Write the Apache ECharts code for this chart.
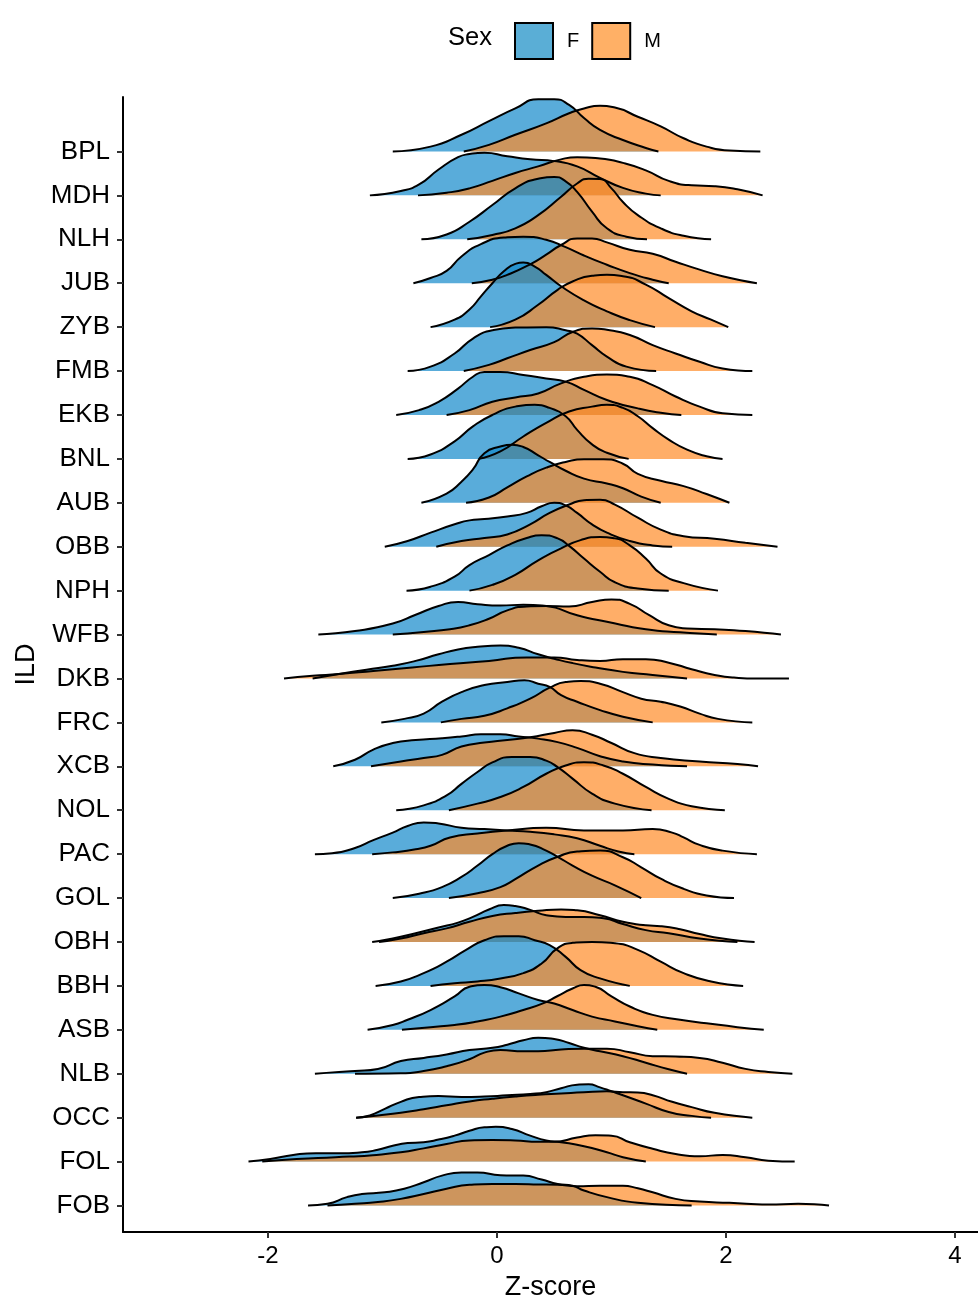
<!DOCTYPE html>
<html><head><meta charset="utf-8">
<script src="https://cdn.jsdelivr.net/npm/echarts@6/dist/echarts.min.js"></script>
<style>html,body{margin:0;padding:0;background:#fff}#c{width:978px;height:1306px}</style>
</head><body><div id="c"></div>
<script>
// Categories, top to bottom
const categories = ['BPL','MDH','NLH','JUB','ZYB','FMB','EKB','BNL','AUB','OBB','NPH','WFB','DKB','FRC','XCB','NOL','PAC','GOL','OBH','BBH','ASB','NLB','OCC','FOL','FOB'];
const xTicks = [-2, 0, 2, 4];
const sexes = ['F', 'M'];

// Scaled density curves: [Z-score, height in row units]
const F_BPL = [[-0.91,0],[-0.58,0.11],[-0.31,0.38],[-0.07,0.69],[0.16,0.98],[0.36,1.19],[0.5,1.19],[0.63,1.06],[0.76,0.76],[0.9,0.49],[1.1,0.26],[1.3,0.08],[1.41,0]];
const M_BPL = [[-0.29,0],[-0.07,0.15],[0.16,0.38],[0.43,0.64],[0.63,0.87],[0.76,0.98],[0.9,1.04],[1.03,1.0],[1.23,0.79],[1.43,0.57],[1.63,0.3],[1.83,0.11],[2.03,0.02],[2.3,0]];
const F_MDH = [[-1.11,0],[-0.84,0.1],[-0.68,0.25],[-0.51,0.59],[-0.34,0.87],[-0.24,0.94],[-0.11,0.97],[0.09,0.89],[0.29,0.82],[0.5,0.78],[0.7,0.66],[0.9,0.4],[1.1,0.17],[1.3,0.04],[1.43,0]];
const M_MDH = [[-0.69,0],[-0.44,0.06],[-0.24,0.16],[-0.04,0.33],[0.16,0.51],[0.36,0.66],[0.56,0.82],[0.7,0.87],[0.9,0.84],[1.1,0.74],[1.3,0.57],[1.5,0.33],[1.7,0.23],[1.9,0.21],[2.1,0.14],[2.32,0]];
const F_NLH = [[-0.66,0],[-0.44,0.11],[-0.24,0.4],[-0.04,0.78],[0.16,1.16],[0.36,1.38],[0.5,1.42],[0.6,1.32],[0.7,1.08],[0.83,0.63],[0.96,0.25],[1.13,0.06],[1.31,0]];
const M_NLH = [[-0.26,0],[-0.04,0.1],[0.16,0.25],[0.36,0.55],[0.56,0.97],[0.7,1.27],[0.8,1.38],[0.9,1.37],[1.0,1.16],[1.1,0.85],[1.23,0.55],[1.43,0.25],[1.63,0.08],[1.87,0]];
const F_JUB = [[-0.73,0],[-0.58,0.12],[-0.44,0.28],[-0.31,0.61],[-0.14,0.89],[0.06,1.04],[0.23,1.06],[0.43,0.99],[0.6,0.82],[0.76,0.63],[0.96,0.42],[1.16,0.23],[1.36,0.08],[1.5,0]];
const M_JUB = [[-0.22,0],[-0.04,0.08],[0.09,0.19],[0.29,0.43],[0.43,0.65],[0.56,0.87],[0.7,1.02],[0.83,1.02],[0.96,0.93],[1.16,0.76],[1.36,0.67],[1.56,0.49],[1.77,0.31],[1.97,0.16],[2.27,0]];
const F_ZYB = [[-0.58,0],[-0.37,0.17],[-0.24,0.4],[-0.14,0.7],[-0.04,1.0],[0.06,1.27],[0.16,1.44],[0.23,1.47],[0.33,1.38],[0.43,1.19],[0.56,0.93],[0.76,0.61],[0.96,0.36],[1.16,0.16],[1.38,0]];
const M_ZYB = [[-0.06,0],[0.16,0.17],[0.36,0.51],[0.53,0.85],[0.66,1.04],[0.83,1.17],[0.96,1.19],[1.1,1.16],[1.3,0.97],[1.5,0.66],[1.7,0.36],[1.87,0.17],[2.02,0]];
const F_FMB = [[-0.78,0],[-0.58,0.1],[-0.37,0.4],[-0.21,0.74],[-0.04,0.93],[0.16,0.99],[0.43,1.0],[0.6,0.93],[0.7,0.85],[0.83,0.59],[0.96,0.33],[1.13,0.1],[1.39,0]];
const M_FMB = [[-0.29,0],[-0.07,0.14],[0.09,0.29],[0.29,0.48],[0.5,0.66],[0.66,0.89],[0.83,0.97],[0.96,0.94],[1.16,0.82],[1.36,0.59],[1.56,0.4],[1.77,0.21],[1.97,0.06],[2.23,0]];
const F_EKB = [[-0.88,0],[-0.68,0.11],[-0.51,0.3],[-0.34,0.6],[-0.21,0.87],[-0.11,0.98],[0.03,0.98],[0.23,0.91],[0.43,0.83],[0.6,0.76],[0.76,0.57],[0.96,0.34],[1.23,0.15],[1.43,0.05],[1.61,0]];
const M_EKB = [[-0.44,0],[-0.24,0.11],[-0.04,0.3],[0.16,0.4],[0.36,0.49],[0.56,0.72],[0.76,0.87],[0.96,0.92],[1.16,0.87],[1.36,0.68],[1.56,0.42],[1.77,0.19],[1.97,0.04],[2.23,0]];
const F_BNL = [[-0.78,0],[-0.58,0.1],[-0.37,0.4],[-0.21,0.74],[-0.04,1.0],[0.16,1.19],[0.33,1.23],[0.46,1.16],[0.6,0.97],[0.7,0.66],[0.83,0.33],[0.96,0.14],[1.15,0]];
const M_BNL = [[-0.16,0],[0.03,0.17],[0.23,0.51],[0.43,0.82],[0.63,1.08],[0.83,1.19],[0.96,1.23],[1.1,1.16],[1.23,0.97],[1.36,0.7],[1.5,0.44],[1.66,0.21],[1.83,0.06],[1.97,0]];
const F_AUB = [[-0.66,0],[-0.44,0.21],[-0.31,0.48],[-0.21,0.76],[-0.11,1.13],[0.03,1.28],[0.13,1.32],[0.23,1.27],[0.36,1.08],[0.46,0.93],[0.6,0.73],[0.76,0.55],[0.96,0.44],[1.1,0.33],[1.26,0.14],[1.43,0]];
const M_AUB = [[-0.27,0],[-0.07,0.12],[0.09,0.35],[0.26,0.6],[0.43,0.8],[0.6,0.93],[0.76,0.99],[0.93,0.99],[1.1,0.89],[1.23,0.66],[1.43,0.5],[1.63,0.38],[1.83,0.2],[2.03,0]];
const F_OBB = [[-0.98,0],[-0.78,0.13],[-0.58,0.32],[-0.37,0.51],[-0.24,0.6],[-0.11,0.63],[0.09,0.69],[0.26,0.77],[0.39,0.92],[0.5,1.0],[0.6,0.94],[0.7,0.77],[0.83,0.51],[0.96,0.32],[1.16,0.13],[1.36,0.03],[1.53,0]];
const M_OBB = [[-0.53,0],[-0.31,0.13],[-0.11,0.2],[0.09,0.28],[0.29,0.51],[0.46,0.77],[0.63,0.96],[0.76,1.06],[0.9,1.07],[1.03,0.96],[1.23,0.66],[1.43,0.39],[1.63,0.24],[1.9,0.18],[2.17,0.09],[2.45,0]];
const F_NPH = [[-0.79,0],[-0.58,0.09],[-0.37,0.32],[-0.24,0.58],[-0.07,0.81],[0.09,1.03],[0.26,1.2],[0.39,1.26],[0.53,1.19],[0.63,1.02],[0.76,0.73],[0.9,0.43],[1.03,0.19],[1.23,0.05],[1.5,0]];
const M_NPH = [[-0.24,0],[-0.04,0.13],[0.16,0.36],[0.36,0.69],[0.56,0.96],[0.73,1.15],[0.9,1.22],[1.03,1.19],[1.16,1.03],[1.3,0.73],[1.43,0.39],[1.63,0.17],[1.93,0]];
const F_WFB = [[-1.56,0],[-1.24,0.08],[-0.91,0.25],[-0.71,0.45],[-0.51,0.65],[-0.34,0.74],[-0.17,0.69],[0.03,0.66],[0.23,0.68],[0.43,0.65],[0.7,0.44],[0.96,0.29],[1.3,0.12],[1.6,0.05],[1.92,0]];
const M_WFB = [[-0.91,0],[-0.64,0.06],[-0.41,0.12],[-0.24,0.21],[-0.07,0.36],[0.09,0.55],[0.26,0.64],[0.43,0.65],[0.63,0.64],[0.83,0.74],[1.0,0.8],[1.16,0.7],[1.33,0.44],[1.5,0.21],[1.66,0.14],[1.9,0.12],[2.17,0.08],[2.48,0]];
const F_DKB = [[-1.61,0],[-1.38,0.1],[-1.14,0.2],[-0.91,0.29],[-0.71,0.4],[-0.51,0.55],[-0.34,0.66],[-0.17,0.72],[0.03,0.75],[0.19,0.7],[0.36,0.55],[0.5,0.45],[0.66,0.35],[0.86,0.25],[1.1,0.15],[1.36,0.08],[1.66,0]];
const M_DKB = [[-1.86,0],[-1.61,0.06],[-1.38,0.1],[-1.08,0.17],[-0.74,0.25],[-0.41,0.33],[-0.07,0.4],[0.26,0.48],[0.5,0.48],[0.7,0.42],[0.9,0.4],[1.1,0.44],[1.3,0.44],[1.5,0.36],[1.7,0.21],[1.9,0.08],[2.07,0.02],[2.27,0],[2.55,0]];
const F_FRC = [[-1.01,0],[-0.81,0.08],[-0.64,0.2],[-0.48,0.47],[-0.31,0.69],[-0.11,0.85],[0.09,0.92],[0.24,0.96],[0.36,0.88],[0.46,0.81],[0.56,0.62],[0.7,0.47],[0.9,0.28],[1.1,0.13],[1.36,0]];
const M_FRC = [[-0.49,0],[-0.31,0.08],[-0.11,0.15],[0.09,0.32],[0.29,0.54],[0.46,0.79],[0.6,0.92],[0.73,0.94],[0.9,0.88],[1.1,0.69],[1.26,0.54],[1.43,0.47],[1.6,0.36],[1.77,0.2],[1.93,0.08],[2.23,0]];
const F_XCB = [[-1.43,0],[-1.24,0.15],[-1.08,0.38],[-0.91,0.53],[-0.71,0.6],[-0.48,0.64],[-0.31,0.68],[-0.14,0.73],[0.03,0.73],[0.19,0.68],[0.36,0.63],[0.53,0.55],[0.7,0.42],[0.9,0.23],[1.1,0.11],[1.36,0.04],[1.66,0]];
const M_XCB = [[-1.1,0],[-0.84,0.11],[-0.64,0.19],[-0.48,0.26],[-0.31,0.45],[-0.11,0.54],[0.09,0.6],[0.29,0.66],[0.5,0.76],[0.66,0.82],[0.83,0.72],[1.0,0.53],[1.2,0.3],[1.43,0.19],[1.77,0.11],[2.1,0.05],[2.28,0]];
const F_NOL = [[-0.88,0],[-0.64,0.11],[-0.44,0.34],[-0.31,0.6],[-0.17,0.87],[-0.04,1.09],[0.13,1.21],[0.29,1.21],[0.43,1.13],[0.53,0.98],[0.66,0.72],[0.83,0.38],[1.03,0.15],[1.35,0]];
const M_NOL = [[-0.42,0],[-0.17,0.15],[0.03,0.3],[0.23,0.53],[0.43,0.83],[0.6,1.02],[0.76,1.09],[0.93,1.02],[1.1,0.83],[1.3,0.53],[1.5,0.26],[1.7,0.09],[1.99,0]];
const F_PAC = [[-1.59,0],[-1.44,0.02],[-1.24,0.14],[-1.08,0.32],[-0.91,0.49],[-0.78,0.64],[-0.64,0.72],[-0.51,0.7],[-0.31,0.6],[-0.11,0.57],[0.09,0.54],[0.29,0.51],[0.5,0.45],[0.7,0.36],[0.9,0.19],[1.06,0.06],[1.2,0]];
const M_PAC = [[-1.09,0],[-0.91,0.04],[-0.71,0.11],[-0.58,0.19],[-0.41,0.38],[-0.17,0.47],[0.09,0.54],[0.43,0.6],[0.76,0.54],[1.1,0.54],[1.36,0.57],[1.53,0.49],[1.63,0.38],[1.77,0.21],[1.97,0.08],[2.27,0]];
const F_GOL = [[-0.91,0],[-0.68,0.1],[-0.48,0.25],[-0.31,0.48],[-0.17,0.74],[-0.04,1.0],[0.09,1.19],[0.19,1.25],[0.29,1.22],[0.43,1.08],[0.53,0.94],[0.66,0.74],[0.83,0.51],[1.03,0.29],[1.26,0]];
const M_GOL = [[-0.42,0],[-0.17,0.11],[0.03,0.25],[0.16,0.43],[0.36,0.74],[0.53,0.94],[0.7,1.06],[0.9,1.08],[1.1,0.93],[1.26,0.7],[1.43,0.44],[1.63,0.21],[1.83,0.06],[2.07,0]];
const F_OBH = [[-1.09,0],[-0.91,0.08],[-0.71,0.2],[-0.51,0.33],[-0.34,0.44],[-0.21,0.57],[-0.07,0.74],[0.06,0.84],[0.16,0.82],[0.29,0.73],[0.43,0.61],[0.6,0.57],[0.76,0.57],[0.93,0.54],[1.1,0.41],[1.3,0.27],[1.5,0.2],[1.77,0.08],[2.1,0]];
const M_OBH = [[-1.03,0],[-0.84,0.08],[-0.64,0.2],[-0.44,0.31],[-0.24,0.46],[-0.04,0.59],[0.16,0.66],[0.36,0.71],[0.56,0.74],[0.7,0.72],[0.9,0.61],[1.1,0.46],[1.3,0.38],[1.43,0.36],[1.6,0.29],[1.77,0.18],[1.97,0.08],[2.25,0]];
const F_BBH = [[-1.06,0],[-0.84,0.1],[-0.64,0.29],[-0.44,0.55],[-0.27,0.82],[-0.11,1.04],[0.06,1.13],[0.19,1.13],[0.33,1.04],[0.46,0.93],[0.6,0.66],[0.73,0.36],[0.9,0.17],[1.16,0]];
const M_BBH = [[-0.58,0],[-0.37,0.06],[-0.17,0.1],[0.03,0.17],[0.23,0.29],[0.39,0.51],[0.53,0.86],[0.66,0.98],[0.83,1.0],[1.03,0.97],[1.23,0.82],[1.43,0.55],[1.63,0.29],[1.87,0.1],[2.15,0]];
const F_ASB = [[-1.13,0],[-0.91,0.11],[-0.78,0.23],[-0.58,0.45],[-0.37,0.76],[-0.24,0.98],[-0.11,1.02],[0.03,0.97],[0.19,0.83],[0.36,0.68],[0.5,0.6],[0.66,0.45],[0.83,0.3],[1.03,0.19],[1.23,0.08],[1.4,0]];
const M_ASB = [[-0.83,0],[-0.58,0.06],[-0.37,0.11],[-0.17,0.19],[0.03,0.3],[0.23,0.45],[0.39,0.59],[0.53,0.77],[0.66,0.94],[0.76,1.02],[0.86,0.98],[1.0,0.76],[1.16,0.53],[1.36,0.34],[1.6,0.23],[1.83,0.15],[2.1,0.06],[2.33,0]];
const F_NLB = [[-1.59,0],[-1.38,0.04],[-1.24,0.06],[-1.04,0.11],[-0.84,0.29],[-0.64,0.36],[-0.44,0.44],[-0.24,0.54],[-0.04,0.59],[0.09,0.66],[0.23,0.76],[0.36,0.82],[0.5,0.79],[0.63,0.7],[0.76,0.59],[0.9,0.51],[1.1,0.4],[1.3,0.25],[1.5,0.1],[1.66,0]];
const M_NLB = [[-1.24,0],[-0.84,0.01],[-0.64,0.06],[-0.44,0.17],[-0.24,0.33],[-0.11,0.48],[0.03,0.54],[0.23,0.51],[0.36,0.51],[0.56,0.55],[0.76,0.57],[0.96,0.57],[1.16,0.49],[1.36,0.4],[1.56,0.39],[1.77,0.36],[1.97,0.25],[2.17,0.11],[2.37,0.04],[2.58,0]];
const F_OCC = [[-1.23,0],[-1.11,0.05],[-0.98,0.2],[-0.84,0.36],[-0.68,0.47],[-0.51,0.49],[-0.31,0.47],[-0.11,0.48],[0.09,0.51],[0.29,0.54],[0.43,0.58],[0.56,0.67],[0.7,0.75],[0.8,0.76],[0.9,0.69],[1.0,0.6],[1.1,0.51],[1.3,0.32],[1.5,0.13],[1.7,0.04],[1.87,0]];
const M_OCC = [[-1.23,0],[-1.04,0.05],[-0.84,0.11],[-0.64,0.19],[-0.44,0.28],[-0.24,0.37],[-0.04,0.43],[0.16,0.48],[0.36,0.52],[0.56,0.55],[0.76,0.58],[0.96,0.6],[1.1,0.58],[1.23,0.57],[1.36,0.51],[1.53,0.36],[1.7,0.24],[1.9,0.11],[2.23,0]];
const F_FOL = [[-2.17,0],[-1.98,0.06],[-1.78,0.15],[-1.58,0.19],[-1.38,0.19],[-1.18,0.21],[-1.04,0.27],[-0.91,0.36],[-0.78,0.42],[-0.64,0.44],[-0.51,0.5],[-0.37,0.59],[-0.24,0.7],[-0.11,0.78],[-0.01,0.79],[0.13,0.74],[0.29,0.59],[0.43,0.48],[0.56,0.44],[0.76,0.35],[0.96,0.21],[1.1,0.1],[1.3,0]];
const M_FOL = [[-2.05,0],[-1.75,0.06],[-1.41,0.1],[-1.11,0.14],[-0.84,0.21],[-0.64,0.3],[-0.44,0.4],[-0.24,0.48],[-0.04,0.49],[0.16,0.48],[0.36,0.45],[0.5,0.45],[0.7,0.55],[0.86,0.6],[1.0,0.59],[1.16,0.44],[1.36,0.29],[1.56,0.17],[1.77,0.12],[1.97,0.15],[2.17,0.1],[2.37,0.02],[2.6,0]];
const F_FOB = [[-1.65,0],[-1.48,0.04],[-1.31,0.19],[-1.18,0.26],[-0.98,0.3],[-0.81,0.38],[-0.64,0.53],[-0.48,0.68],[-0.31,0.75],[-0.17,0.75],[0.03,0.69],[0.23,0.68],[0.39,0.59],[0.53,0.49],[0.66,0.45],[0.76,0.34],[0.96,0.19],[1.23,0.06],[1.7,0]];
const M_FOB = [[-1.48,0],[-1.24,0.04],[-1.04,0.08],[-0.84,0.15],[-0.64,0.26],[-0.44,0.38],[-0.24,0.47],[-0.04,0.49],[0.16,0.49],[0.36,0.48],[0.53,0.47],[0.7,0.44],[0.9,0.45],[1.1,0.45],[1.23,0.39],[1.36,0.3],[1.56,0.15],[1.77,0.09],[2.03,0.06],[2.37,0.02],[2.63,0.04],[2.9,0]];

const densF = {BPL:F_BPL,MDH:F_MDH,NLH:F_NLH,JUB:F_JUB,ZYB:F_ZYB,FMB:F_FMB,EKB:F_EKB,BNL:F_BNL,AUB:F_AUB,OBB:F_OBB,NPH:F_NPH,WFB:F_WFB,DKB:F_DKB,FRC:F_FRC,XCB:F_XCB,NOL:F_NOL,PAC:F_PAC,GOL:F_GOL,OBH:F_OBH,BBH:F_BBH,ASB:F_ASB,NLB:F_NLB,OCC:F_OCC,FOL:F_FOL,FOB:F_FOB};
const densM = {BPL:M_BPL,MDH:M_MDH,NLH:M_NLH,JUB:M_JUB,ZYB:M_ZYB,FMB:M_FMB,EKB:M_EKB,BNL:M_BNL,AUB:M_AUB,OBB:M_OBB,NPH:M_NPH,WFB:M_WFB,DKB:M_DKB,FRC:M_FRC,XCB:M_XCB,NOL:M_NOL,PAC:M_PAC,GOL:M_GOL,OBH:M_OBH,BBH:M_BBH,ASB:M_ASB,NLB:M_NLB,OCC:M_OCC,FOL:M_FOL,FOB:M_FOB};

const FONT = '"Liberation Sans", Arial, sans-serif';
const FILL = {F: 'rgba(18,137,203,0.7)', M: 'rgba(255,140,40,0.7)'};
const LEGEND_FILL = {F: '#5AAED6', M: '#FFB066'};
const N = categories.length;

const series = [];
categories.forEach((cat, k) => {
  const pos = N - 1 - k;
  const sets = {F: densF[cat], M: densM[cat]};
  sexes.forEach(sx => {
    series.push({
      type: 'line', name: sx,
      data: sets[sx].map(p => [p[0], pos + p[1]]),
      smooth: 0.55,
      symbol: 'none', showSymbol: false, clip: false,
      color: LEGEND_FILL[sx],
      lineStyle: {color: '#000', width: 2},
      areaStyle: {color: FILL[sx], origin: pos, opacity: 1},
      silent: true, animation: false
    });
  });
});

const rowTicks = categories.map((c, k) => N - 1 - k);

const chart = echarts.init(document.getElementById('c'), null, {renderer: 'canvas'});
chart.setOption({
  backgroundColor: '#fff',
  animation: false,
  grid: {left: 123, right: 0, top: 97, bottom: 67, containLabel: false},
  graphic: [{type: 'text', x: 448, y: 37.5, style: {text: 'Sex', font: '25.5px ' + FONT, fill: '#000', verticalAlign: 'middle'}}],
  legend: {
    left: 509, top: 17, itemWidth: 38, itemHeight: 36, itemGap: 12,
    icon: 'rect', selectedMode: false,
    textStyle: {fontFamily: FONT, fontSize: 20, color: '#000', padding: [0, 0, 0, 9]},
    data: sexes.map(s => ({name: s, icon: 'rect', itemStyle: {color: LEGEND_FILL[s], borderColor: '#000', borderWidth: 2}}))
  },
  xAxis: {
    type: 'value', min: -3.266, max: 4.201,
    name: 'Z-score', nameLocation: 'middle', nameGap: 42,
    nameTextStyle: {fontFamily: FONT, fontSize: 27, color: '#000'},
    axisLine: {show: true, onZero: false, lineStyle: {color: '#000', width: 2}},
    axisTick: {show: true, customValues: xTicks, length: 6, lineStyle: {color: '#333', width: 2}},
    axisLabel: {customValues: xTicks, fontFamily: FONT, fontSize: 24, color: '#000', margin: 12},
    splitLine: {show: false}
  },
  yAxis: {
    type: 'value', min: -0.604, max: 25.24,
    name: 'ILD', nameLocation: 'middle', nameGap: 82, nameRotate: 90,
    nameTextStyle: {fontFamily: FONT, fontSize: 27, color: '#000'},
    axisLine: {show: true, onZero: false, lineStyle: {color: '#000', width: 2}},
    axisTick: {show: true, customValues: rowTicks, length: 6, lineStyle: {color: '#333', width: 2}},
    axisLabel: {customValues: rowTicks, fontFamily: FONT, fontSize: 26, color: '#000', margin: 13,
      formatter: v => categories[N - 1 - Math.round(v)]},
    splitLine: {show: false}
  },
  series: series
});
</script></body></html>
